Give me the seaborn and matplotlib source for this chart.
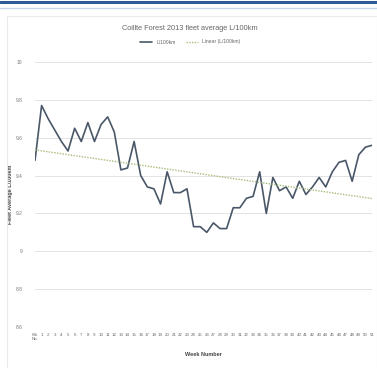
import numpy as np
import pandas as pd
import matplotlib
matplotlib.use("Agg")
import matplotlib.pyplot as plt
from matplotlib.lines import Line2D
from matplotlib.patches import Rectangle
import seaborn as sns

# Weekly fleet average fuel consumption, L/100km
weeks = ["Wk\nNo."] + [str(i) for i in range(1, 52)]
fuel = [9.48, 9.77, 9.70, 9.64, 9.58, 9.53, 9.65, 9.58, 9.68, 9.58,
        9.67, 9.71, 9.63, 9.43, 9.44, 9.58, 9.40, 9.34, 9.33, 9.25,
        9.42, 9.31, 9.31, 9.33, 9.13, 9.13, 9.10, 9.15, 9.12, 9.12,
        9.23, 9.23, 9.28, 9.29, 9.42, 9.20, 9.39, 9.32, 9.34, 9.28,
        9.37, 9.30, 9.34, 9.39, 9.34, 9.42, 9.47, 9.48, 9.37, 9.51,
        9.55, 9.56]
y_ticks = [8.6, 8.8, 9.0, 9.2, 9.4, 9.6, 9.8, 10.0]
y_tick_labels = ["8.6", "8.8", "9", "9.2", "9.4", "9.6", "9.8", "10"]

df = pd.DataFrame({"idx": np.arange(len(fuel)), "fuel": fuel})
slope, intercept = np.polyfit(df["idx"], df["fuel"], 1)
df["trend"] = intercept + slope * df["idx"]

sns.set_theme(style="white")
plt.rcParams["font.family"] = ["Liberation Sans", "DejaVu Sans"]

W, H = 377, 368
fig = plt.figure(figsize=(W / 100, H / 100), dpi=100)
fig.patch.set_facecolor("white")

# page frame lines and chart border
fig.add_artist(Line2D([0, 1], [1 - 1.5 / H, 1 - 1.5 / H], color="#2e5a96", lw=2.2))
fig.add_artist(Line2D([0, 1], [1 - 8 / H, 1 - 8 / H], color="#c5d6ea", lw=1.0))
fig.add_artist(Rectangle((7 / W, 0), 1 - 7 / W, 1 - 16 / H, transform=fig.transFigure,
                         fill=False, edgecolor="#ebebeb", lw=0.8))

ax = fig.add_axes([35 / W, 1 - 327 / H, 337 / W, 265 / H])
sns.lineplot(data=df, x="idx", y="fuel", ax=ax, color="#4a5768", lw=1.2)
sns.lineplot(data=df, x="idx", y="trend", ax=ax, color="#a8bc7c", lw=1.0,
             linestyle=(0, (1, 1)))

ax.set_ylim(8.6, 10.0)
ax.set_xlim(0, len(fuel) - 1)
ax.set_yticks(y_ticks)
ax.set_yticklabels(y_tick_labels, fontsize=3.5, color="#777777")
ax.set_xticks(df["idx"])
ax.set_xticklabels(weeks, fontsize=3.2, color="#666666", va="top")
ax.tick_params(axis="x", length=0, pad=4)
ax.tick_params(axis="y", length=0, pad=9)
ax.yaxis.grid(True, color="#e3e3e3", lw=0.7)
for s in ax.spines.values():
    s.set_visible(False)
ax.set_xlabel("Week Number", fontsize=4, color="#444444", fontweight="bold", labelpad=8)
ax.set_ylabel("Fleet Average L/100km", fontsize=4, color="#444444", fontweight="bold", labelpad=2)

fig.text(190 / W, 1 - 29 / H, "Coillte Forest 2013 fleet average L/100km",
         ha="center", va="center", fontsize=5.3, color="#666666")
handles = [Line2D([], [], color="#4a5768", lw=1.2),
           Line2D([], [], color="#a8bc7c", lw=1.0, linestyle=(0, (1, 1)))]
fig.legend(handles, ["L/100km", "Linear (L/100km)"], loc="center",
           bbox_to_anchor=(190 / W, 1 - 42 / H), ncol=2, frameon=False,
           fontsize=3.6, handlelength=2.5, columnspacing=2, labelcolor="#666666")

fig.savefig("out.png", dpi=100, facecolor="white")
